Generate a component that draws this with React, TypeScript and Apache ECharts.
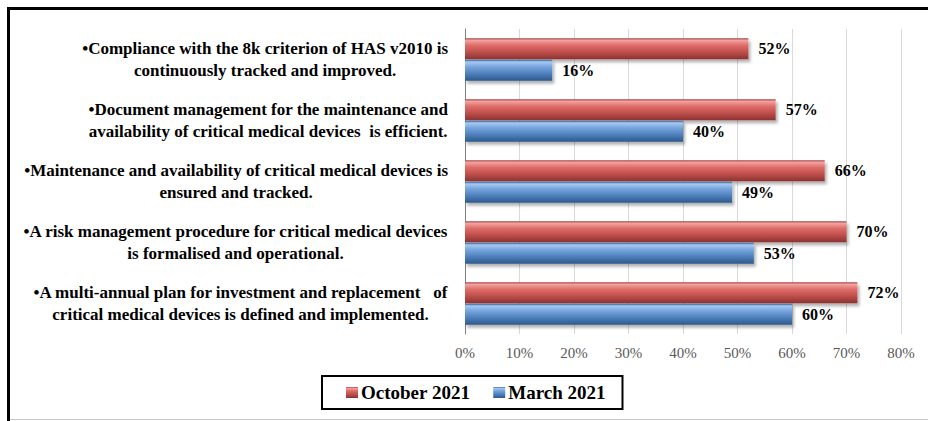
import React, { useEffect, useRef } from "react";
import * as echarts from "echarts";

const categories = [
  "•Compliance with the 8k criterion of HAS v2010 is\ncontinuously tracked and improved.",
  "•Document management for the maintenance and\navailability of critical medical devices  is efficient.",
  "•Maintenance and availability of critical medical devices is\nensured and tracked.",
  "•A risk management procedure for critical medical devices\nis formalised and operational.",
  "•A multi-annual plan for investment and replacement   of\ncritical medical devices is defined and implemented.",
];
const october2021 = [52, 57, 66, 70, 72];
const march2021 = [16, 40, 49, 53, 60];
const seriesNames = ["October 2021", "March 2021"];
const xMin = 0;
const xMax = 80;
const xStep = 10;

const FONT = "Liberation Serif";

export default function App() {
  const ref = useRef<HTMLDivElement>(null);
  useEffect(() => {
    if (!ref.current) return;
    const chart = echarts.init(ref.current, undefined, { renderer: "svg" });
    const red = new echarts.graphic.LinearGradient(0, 0, 0, 1, [
      { offset: 0, color: "#9E3C3A" },
      { offset: 0.1, color: "#F2A3A1" },
      { offset: 0.35, color: "#DE6B67" },
      { offset: 0.65, color: "#C0504D" },
      { offset: 1, color: "#8C3331" },
    ]);
    const blue = new echarts.graphic.LinearGradient(0, 0, 0, 1, [
      { offset: 0, color: "#2F5F98" },
      { offset: 0.1, color: "#A7CAF2" },
      { offset: 0.35, color: "#74A3DC" },
      { offset: 0.65, color: "#4F81BD" },
      { offset: 1, color: "#2D588C" },
    ]);
    const labelStyle = {
      show: true,
      position: "right" as const,
      distance: 10,
      formatter: "{c}%",
      fontFamily: FONT,
      fontWeight: "bold" as const,
      fontSize: 16,
      color: "#000",
    };
    const shadow = {
      shadowColor: "rgba(0,0,0,0.3)",
      shadowBlur: 3,
      shadowOffsetX: 2,
      shadowOffsetY: 3,
    };
    chart.setOption({
      animation: false,
      textStyle: { fontFamily: FONT },
      graphic: [
        { type: "line", shape: { x1: 7, y1: 8.5, x2: 928, y2: 8.5 }, style: { stroke: "#000", lineWidth: 3 } },
        { type: "line", shape: { x1: 8.5, y1: 7, x2: 8.5, y2: 421 }, style: { stroke: "#000", lineWidth: 3 } },
        { type: "line", shape: { x1: 10, y1: 419.5, x2: 928, y2: 419.5 }, style: { stroke: "#C8C8C8", lineWidth: 1 } },
      ],
      grid: { left: 465, right: 27, top: 29, bottom: 87, containLabel: false },
      legend: {
        data: seriesNames,
        left: 322,
        top: 376,
        icon: "rect",
        itemWidth: 12,
        itemHeight: 11,
        itemGap: 23,
        padding: [7, 17, 7, 24],
        borderColor: "#000",
        borderWidth: 2,
        textStyle: { fontFamily: FONT, fontWeight: "bold", fontSize: 19, color: "#000", padding: [0, 0, 0, -2] },
      },
      xAxis: {
        type: "value",
        min: xMin,
        max: xMax,
        interval: xStep,
        axisLine: { show: false },
        axisTick: { show: false },
        splitLine: { show: true, lineStyle: { color: "#D9D9D9", width: 1 } },
        axisLabel: {
          formatter: "{value}%",
          fontFamily: FONT,
          fontSize: 15,
          color: "#595959",
          margin: 11,
        },
      },
      yAxis: {
        type: "category",
        data: categories,
        inverse: true,
        axisLine: { show: true, lineStyle: { color: "#7F7F7F", width: 1 } },
        axisTick: { show: false },
        axisLabel: {
          margin: 17,
          fontFamily: FONT,
          formatter: (v: string) => v.split("\n").map((l) => `{c|${l}}`).join("\n"),
          rich: {
            c: {
              align: "center",
              fontFamily: FONT,
              fontWeight: "bold",
              fontSize: 17,
              lineHeight: 22,
              color: "#000",
            },
          },
        },
      },
      series: [
        {
          name: seriesNames[0],
          type: "bar",
          data: october2021,
          barWidth: 21,
          barGap: "3%",
          itemStyle: { color: red, ...shadow },
          label: labelStyle,
        },
        {
          name: seriesNames[1],
          type: "bar",
          data: march2021,
          barWidth: 21,
          barGap: "3%",
          itemStyle: { color: blue, ...shadow },
          label: labelStyle,
        },
      ],
    });
    return () => chart.dispose();
  }, []);
  return (
    <div
      ref={ref}
      style={{ position: "fixed", left: 0, top: 0, width: 928, height: 421, background: "#fff" }}
    />
  );
}
